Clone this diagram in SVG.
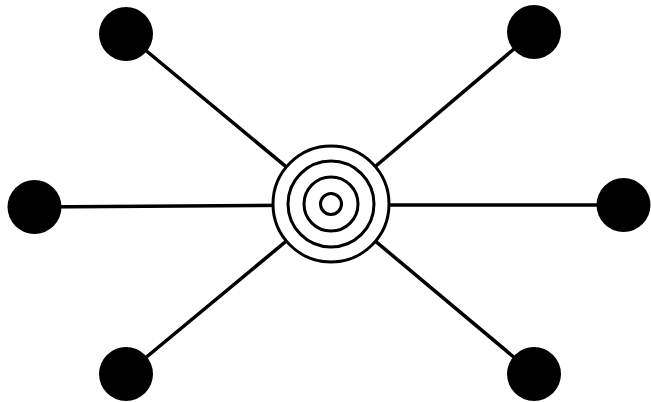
<svg xmlns="http://www.w3.org/2000/svg" width="651" height="402" viewBox="0 0 651 402">
<style>
.edge{stroke:#000;stroke-width:3.5;fill:none}
.leaf{fill:#000}
.ring{fill:none;stroke:#000;stroke-width:3}
</style>
<rect width="651" height="402" fill="#fff"/>
<g id="connectors">
<line class="edge" x1="126" y1="34" x2="331" y2="204"/>
<line class="edge" x1="534" y1="32" x2="331" y2="204"/>
<line class="edge" x1="34" y1="207" x2="331" y2="205"/>
<line class="edge" x1="624" y1="205" x2="331" y2="205"/>
<line class="edge" x1="126" y1="374" x2="331" y2="204"/>
<line class="edge" x1="534" y1="374" x2="331" y2="204"/>
</g>
<g id="hub">
<circle cx="331" cy="204" r="58" fill="#fff" stroke="#000" stroke-width="3"/>
<circle class="ring" cx="331" cy="204" r="43"/>
<circle class="ring" cx="331" cy="204" r="27"/>
<circle class="ring" cx="331" cy="204" r="10.5"/>
</g>
<g id="node-top-left"><circle class="leaf" cx="126" cy="34" r="27"/></g>
<g id="node-top-right"><circle class="leaf" cx="534" cy="32" r="27"/></g>
<g id="node-left"><circle class="leaf" cx="34.5" cy="207" r="27"/></g>
<g id="node-right"><circle class="leaf" cx="623.5" cy="205" r="27"/></g>
<g id="node-bottom-left"><circle class="leaf" cx="126" cy="374" r="27"/></g>
<g id="node-bottom-right"><circle class="leaf" cx="534" cy="374" r="27"/></g>
</svg>
